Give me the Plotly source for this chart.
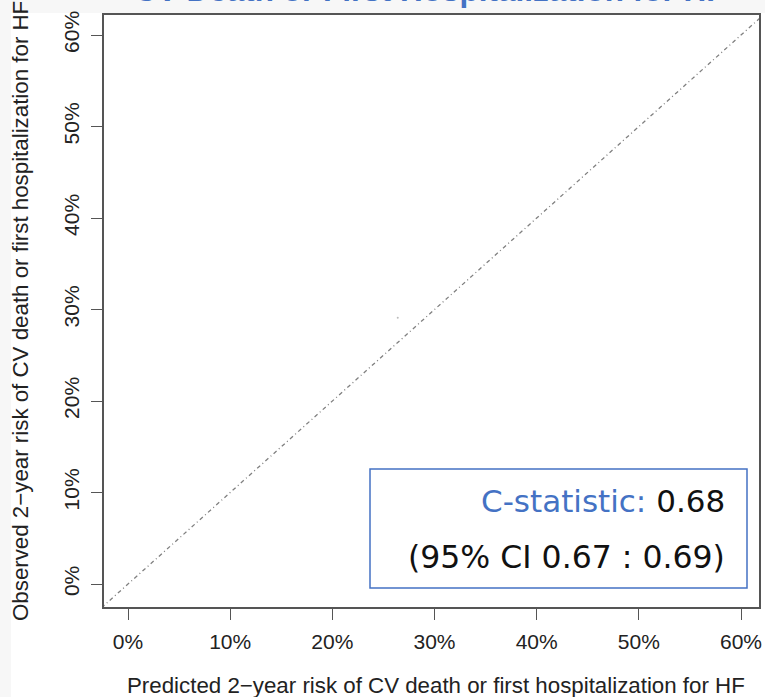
import plotly.graph_objects as go

# ---- data ----
tick_vals = [0.0, 0.1, 0.2, 0.3, 0.4, 0.5, 0.6]
tick_text = ["0%", "10%", "20%", "30%", "40%", "50%", "60%"]
ref_line_x = [-0.05, 0.65]
ref_line_y = [-0.05, 0.65]
point_x = [0.264]
point_y = [0.291]
title_text = "CV Death or First Hospitalization for HF"
x_title = "Predicted 2\u2212year risk of CV death or first hospitalization for HF"
y_title = "Observed 2\u2212year risk of CV death or first hospitalization for HF"
c_label = "C-statistic:"
c_value = "0.68"
ci_text = "(95% CI 0.67 : 0.69)"

W, H = 765, 697
L, R, T, B = 104, 6, 15, 90
PW, PH = W - L - R, H - T - B
BLUE = "#4472C4"


def px(x):
    return (x - L) / PW


def py(y):
    return (H - B - y) / PH


fig = go.Figure()
fig.add_trace(go.Scatter(x=ref_line_x, y=ref_line_y, mode="lines",
                         line=dict(color="#808080", width=1.3, dash="4px,3px,1px,3px"),
                         hoverinfo="skip"))
fig.add_trace(go.Scatter(x=point_x, y=point_y, mode="markers",
                         marker=dict(color="#bbbbbb", size=2), hoverinfo="skip"))

axis_common = dict(
    tickvals=tick_vals, ticktext=tick_text, showgrid=False, zeroline=False,
    showline=True, mirror=True, linecolor="#555555", linewidth=1.5,
    ticks="outside", ticklen=11, tickcolor="#555555", tickwidth=1,
    tickfont=dict(family="Liberation Sans, Arial", size=21, color="#222222"),
)

fig.update_layout(
    width=W, height=H,
    margin=dict(l=L, r=R, t=T, b=B, autoexpand=False),
    paper_bgcolor="white", plot_bgcolor="white", showlegend=False,
    xaxis=dict(range=[-0.0235, 0.6176], ticklabelstandoff=4, **axis_common),
    yaxis=dict(range=[-0.0251, 0.6219], tickangle=-90, ticklabelstandoff=4, **axis_common),
)

shapes = [
    # light grey screenshot edges
    dict(type="rect", xref="paper", yref="paper", x0=px(0), x1=px(11), y0=py(H), y1=py(0),
         fillcolor="#f7f7f7", line=dict(width=0), layer="below"),
    dict(type="rect", xref="paper", yref="paper", x0=px(0), x1=px(W), y0=py(13), y1=py(0),
         fillcolor="#f7f7f7", line=dict(width=0), layer="below"),
    # C-statistic box
    dict(type="rect", xref="paper", yref="paper", x0=px(370), x1=px(747), y0=py(588), y1=py(469),
         fillcolor="white", line=dict(color=BLUE, width=1.5), layer="above"),
]
fig.update_layout(shapes=shapes)

annos = [
    dict(text="<b>" + title_text + "</b>", x=px(430), y=py(10), xanchor="center", yanchor="bottom",
         font=dict(family="Liberation Sans, Arial", size=31.5, color=BLUE)),
    dict(text=x_title, x=px(436), y=py(685), xanchor="center", yanchor="middle",
         font=dict(family="Liberation Sans, Arial", size=22.3, color="#222222")),
    dict(text=y_title, x=px(20), y=py(311), xanchor="center", yanchor="middle", textangle=-90,
         font=dict(family="Liberation Sans, Arial", size=22.3, color="#222222")),
    dict(text='<span style="color:%s">%s</span> %s' % (BLUE, c_label, c_value),
         x=px(727), y=py(501), xanchor="right", yanchor="middle",
         font=dict(family="DejaVu Sans", size=31, color="#111111")),
    dict(text=ci_text, x=px(727), y=py(557), xanchor="right", yanchor="middle",
         font=dict(family="DejaVu Sans", size=31.5, color="#111111")),
]
for a in annos:
    a.update(xref="paper", yref="paper", showarrow=False)
fig.update_layout(annotations=annos)

fig.write_html("out.html")
